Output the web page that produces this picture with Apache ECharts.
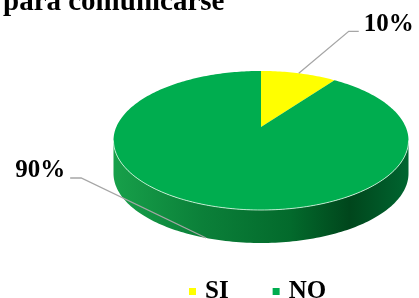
<!DOCTYPE html>
<html>
<head>
<meta charset="utf-8">
<script src="https://cdn.jsdelivr.net/npm/echarts@6/dist/echarts.min.js"></script>
<style>
  html, body { margin: 0; padding: 0; background: #fff; }
  #main { width: 419px; height: 298px; }
</style>
</head>
<body>
<div id="main"></div>
<script>
// data
var categories = ['SI', 'NO'];
var values = [10, 90];
var colors = ['#FFFF00', '#00AD4F'];
var titleText = 'para comunicarse';

// layout of the tilted pie (screen px)
var cx = 261, cy = 127;      // projected centre
var R = 144.7, Ry = 66.9;    // radii before perspective
var k = 0.194;               // perspective factor
var depth = 33;              // thickness of the disc
// leader line bends, relative to the anchor on the rim
var labelLayout = [
  { elbow: [50, -42], tail: 10, onBottom: false },
  { elbow: [-125, -60], tail: -11, onBottom: true }
];

var total = values.reduce(function (a, b) { return a + b; }, 0);
var startAngles = [];
var acc = 0;
for (var i = 0; i < values.length; i++) {
  startAngles.push(acc);
  acc += values[i] / total * Math.PI * 2;
}

// theta measured clockwise from the far (top) point
function proj(t, dy) {
  var X = Math.sin(t), Z = Math.cos(t);
  var w = 1 + k * Z;
  return [cx + R * X / w, cy - Ry * Z / w + (dy || 0)];
}

function arc(a0, a1, dy) {
  var pts = [];
  var n = Math.max(2, Math.ceil(Math.abs(a1 - a0) / 0.02));
  for (var j = 0; j <= n; j++) pts.push(proj(a0 + (a1 - a0) * j / n, dy));
  return pts;
}

// front part of the rim that shows the side
var frontA = Math.acos(-k), frontB = Math.PI * 2 - Math.acos(-k);

function renderSlice(idx) {
  return function (params, api) {
    var a0 = startAngles[idx];
    var a1 = a0 + api.value(0) / total * Math.PI * 2;
    var children = [];

    var s0 = Math.max(a0, frontA), s1 = Math.min(a1, frontB);
    if (s1 > s0) {
      var topEdge = arc(s0, s1, 0);
      var side = topEdge.concat(arc(s1, s0, depth));
      var xl = proj(frontB, 0)[0], xr = proj(frontA, 0)[0];
      children.push({
        type: 'polygon', z2: 0,
        shape: { points: side },
        style: {
          fill: new echarts.graphic.LinearGradient(0, 0, 1, 0, [
            { offset: 0, color: '#17a04a' },
            { offset: 0.3, color: '#0b8039' },
            { offset: 0.6, color: '#036a2c' },
            { offset: 0.8, color: '#00461c' },
            { offset: 1, color: '#006530' }
          ]),
          stroke: null
        }
      });
      children.push({
        type: 'polyline', z2: 12,
        shape: { points: topEdge },
        style: { stroke: 'rgba(235,255,240,0.75)', lineWidth: 1, fill: null }
      });
    }

    var topPts = [[cx, cy]].concat(arc(a0, a1, 0));
    children.push({
      type: 'polygon', z2: 10,
      shape: { points: topPts },
      style: { fill: colors[idx], stroke: null }
    });

    // label with leader line
    var lay = labelLayout[idx];
    var mid = (a0 + a1) / 2;
    var p = proj(mid, lay.onBottom ? depth : 0);
    var e = [p[0] + lay.elbow[0], p[1] + lay.elbow[1]];
    var t = [e[0] + lay.tail, e[1]];
    children.push({
      type: 'polyline', z2: 20,
      shape: { points: [p, e, t] },
      style: { stroke: '#a6a6a6', lineWidth: 1.3, fill: null }
    });
    var pct = Math.round(api.value(0) / total * 100) + '%';
    children.push({
      type: 'text', z2: 21,
      x: t[0] + (lay.tail > 0 ? 5 : -5), y: t[1] - 7,
      style: {
        text: pct,
        fill: '#000',
        font: 'bold 25px "Liberation Serif"',
        align: lay.tail > 0 ? 'left' : 'right',
        verticalAlign: 'middle'
      }
    });
    return { type: 'group', children: children };
  };
}

var series = categories.map(function (name, i) {
  return {
    type: 'custom',
    name: name,
    coordinateSystem: 'none',
    itemStyle: { color: colors[i] },
    silent: true,
    data: [[values[i]]],
    renderItem: renderSlice(i)
  };
});

var chart = echarts.init(document.getElementById('main'));
chart.setOption({
  animation: false,
  color: colors,
  title: {
    text: titleText,
    left: -2,
    top: -17,
    textStyle: { fontFamily: 'Liberation Serif', fontWeight: 'bold', fontSize: 29, color: '#000' }
  },
  legend: {
    data: categories,
    left: 184,
    top: 274,
    itemWidth: 7,
    itemHeight: 7,
    itemGap: 44,
    icon: 'rect',
    textStyle: { fontFamily: 'Liberation Serif', fontWeight: 'bold', fontSize: 25, color: '#000', padding: [0, 0, 0, 4] }
  },
  series: series
});
</script>
</body>
</html>
